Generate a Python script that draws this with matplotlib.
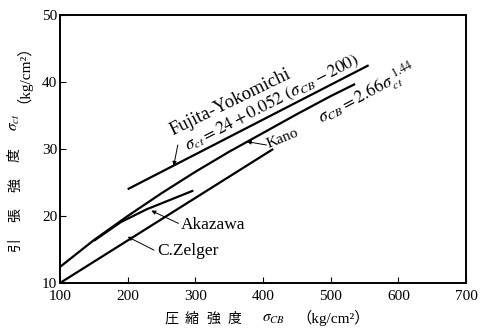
import matplotlib
matplotlib.use("Agg")
import matplotlib.pyplot as plt

plt.rcParams["font.family"] = ["Liberation Serif", "Noto Sans CJK JP"]
plt.rcParams["mathtext.fontset"] = "stix"

# values (sigma_CB, sigma_ct)
fujita_x = [200, 556]
fujita_y = [24.0, 42.5]
kano_x = [100, 150, 200, 250, 300, 350, 400, 450, 500, 536]
kano_y = [12.4, 16.4, 20.0, 23.4, 26.6, 29.6, 32.4, 35.2, 37.9, 39.7]
akazawa_x = [150, 190, 228, 297]
akazawa_y = [16.3, 19.1, 21.0, 23.8]
zelger_x = [100, 415]
zelger_y = [10.0, 30.0]

xticks = [100, 200, 300, 400, 500, 600, 700]
yticks = [10, 20, 30, 40, 50]
xlabel_chars = ["圧", "縮", "強", "度"]
ylabel_chars = ["引", "張", "強", "度"]

W, H = 482, 330
fig = plt.figure(figsize=(W / 100, H / 100), dpi=100)
ax = fig.add_axes([0.1245, 0.1424, 0.8425, 0.8121])


def px(x, y):
    # pixel position (from top-left) -> figure fraction
    return x / W, 1 - y / H


lw = 1.6
for xs, ys in [(fujita_x, fujita_y), (kano_x, kano_y),
               (akazawa_x, akazawa_y), (zelger_x, zelger_y)]:
    ax.plot(xs, ys, color="black", lw=lw, solid_capstyle="butt", clip_on=False)

ax.set_xlim(100, 700)
ax.set_ylim(10, 50)
ax.set_xticks(xticks)
ax.set_yticks(yticks)
ax.tick_params(direction="in", length=4, width=0.8, labelsize=11, pad=2)
ax.tick_params(axis="x", pad=5)
for s in ax.spines.values():
    s.set_linewidth(1.4)

# x axis label, pieces placed one by one
for i, ch in enumerate(xlabel_chars):
    fig.text(*px(171 + i * 21, 319), ch, fontsize=10, family="Noto Sans CJK JP",
             ha="center", va="center")
fig.text(*px(262, 319), "$\\sigma_{CB}$", fontsize=11, ha="left", va="center")
fig.text(*px(296, 318), "（kg/cm²）", fontsize=11, ha="left", va="center")

# y axis label
for i, ch in enumerate(ylabel_chars):
    fig.text(*px(15, 245 - i * 30), ch, fontsize=10, family="Noto Sans CJK JP",
             rotation=90, ha="center", va="center")
fig.text(*px(15, 122), "$\\sigma_{ct}$", fontsize=11, rotation=90,
         ha="center", va="center")
fig.text(*px(15, 66), "（kg/cm²）", fontsize=11, rotation=90,
         ha="center", va="center")

arrow = dict(arrowstyle="-|>", color="black", lw=0.7, mutation_scale=6,
             shrinkA=0, shrinkB=0)

# Fujita-Yokomichi
ax.text(267, 32.1, "Fujita-Yokomichi", rotation=26, fontsize=13.5,
        ha="left", va="baseline", rotation_mode="anchor")
ax.text(289, 29.8, "$\\sigma_{ct}=24+0.052\\ (\\sigma_{CB}-200)$", rotation=27,
        fontsize=12.5, ha="left", va="baseline", rotation_mode="anchor")
ax.annotate("", xy=(268, 27.5), xytext=(274, 30.6), arrowprops=arrow)

# Kano
ax.text(408, 30.2, "Kano", rotation=22, fontsize=11, ha="left", va="baseline",
        rotation_mode="anchor")
ax.text(486, 33.8, "$\\sigma_{CB}=2.66\\sigma_{ct}^{\\ 1.44}$", rotation=28,
        fontsize=12.5, ha="left", va="baseline", rotation_mode="anchor")
ax.annotate("", xy=(376, 31.1), xytext=(405, 30.6), arrowprops=arrow)

# Akazawa
ax.text(279, 18.7, "Akazawa", fontsize=12.5, ha="left", va="center")
ax.annotate("", xy=(235, 20.8), xytext=(275, 18.9), arrowprops=arrow)

# C.Zelger
ax.text(243, 14.8, "C.Zelger", fontsize=12.5, ha="left", va="center")
ax.annotate("", xy=(200, 16.9), xytext=(239, 14.9), arrowprops=arrow)

fig.savefig("out.png", dpi=100)
